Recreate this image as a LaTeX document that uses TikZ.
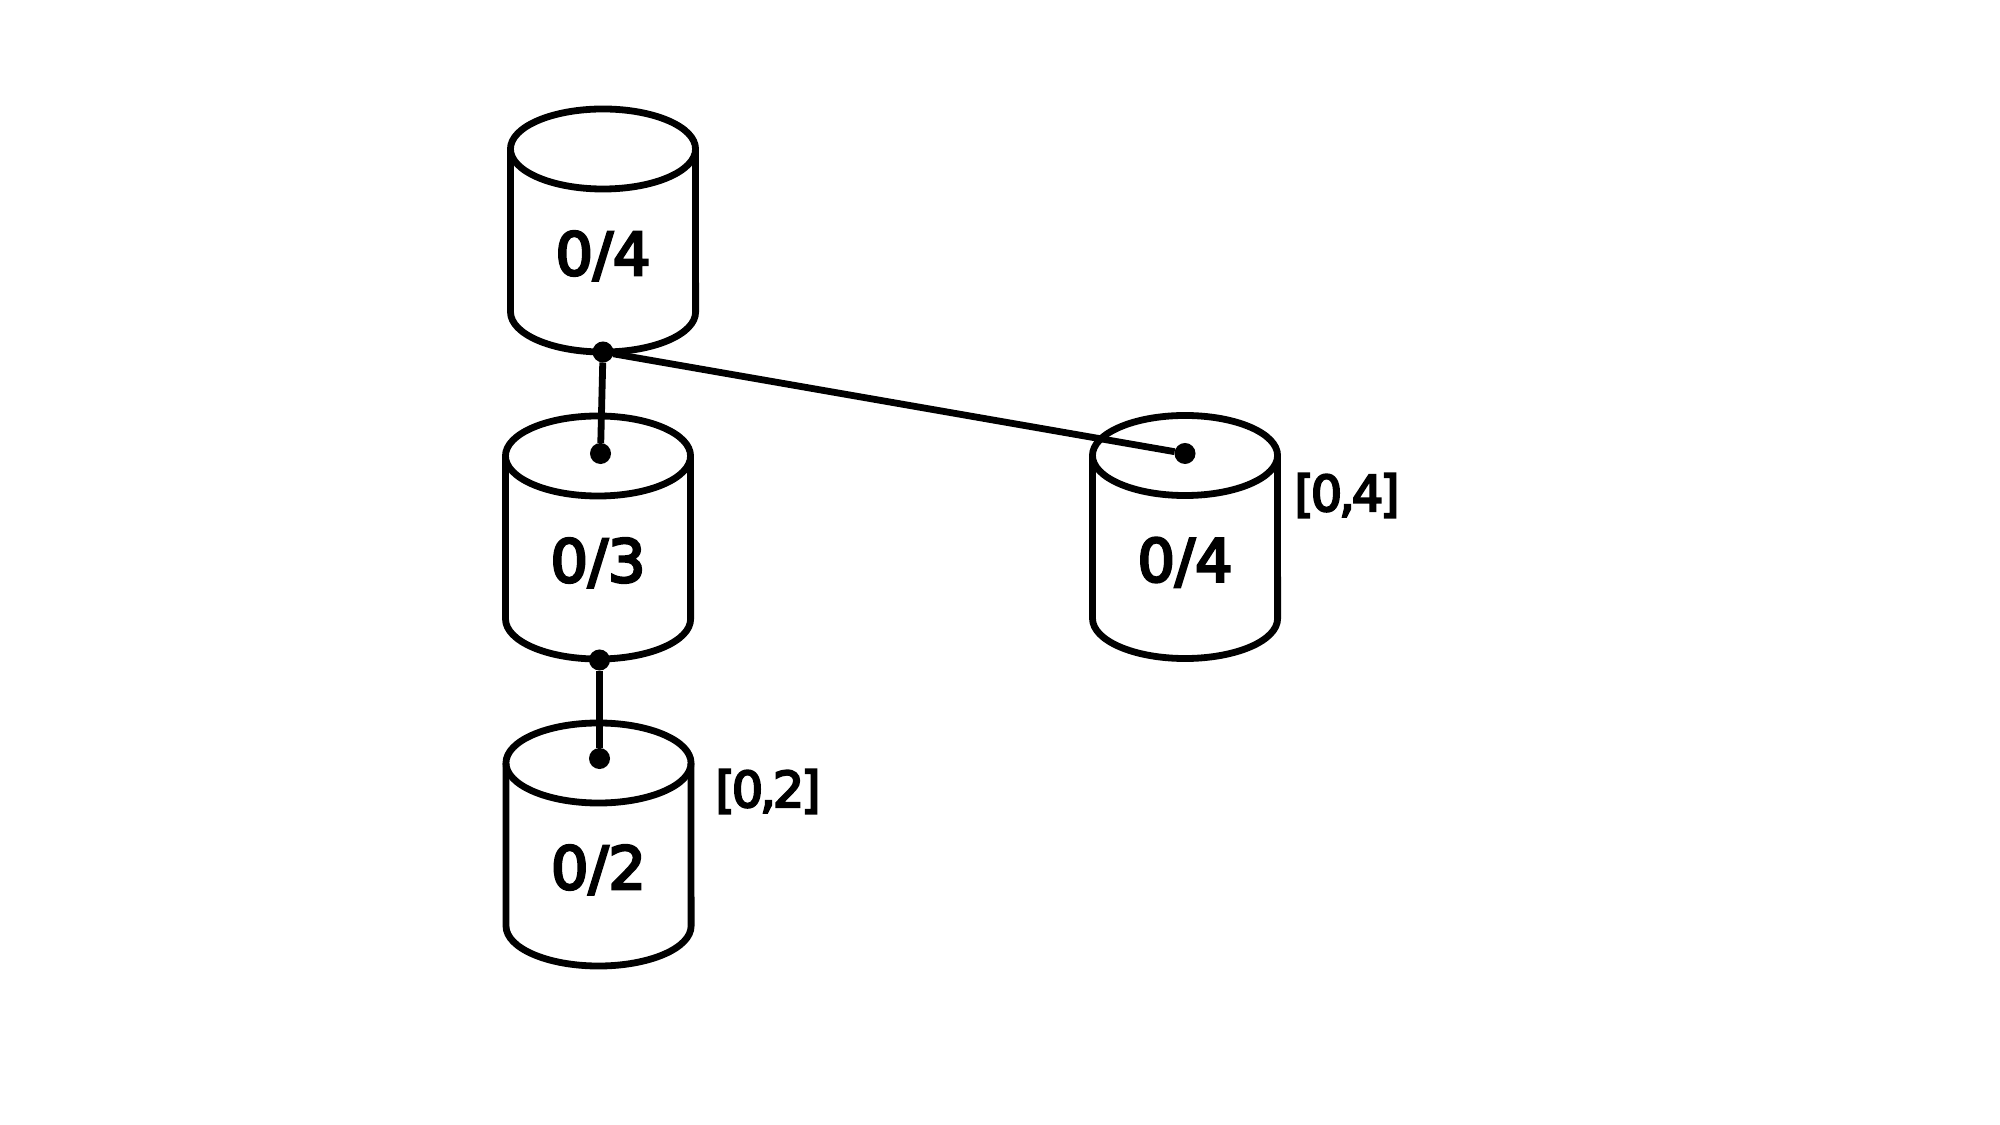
\documentclass[tikz,border=0pt]{standalone}
\usepackage{fontspec}
\setmainfont{DejaVu Sans}
\font\boldlabel="DejaVu Sans:embolden=4.5" at 16.8pt
\font\boldrange="DejaVu Sans:embolden=4.5,letterspace=-6" at 14pt
\usetikzlibrary{calc}

\tikzset{
    cylline/.style={line width=0.068cm, black, line join=round},
    dot/.style={circle, fill=black, inner sep=0pt, outer sep=0pt, minimum size=0.21cm},
    link/.style={line width=0.068cm, black},
    cyltext/.style={anchor=base, inner sep=0pt, font=\boldlabel},
    rangetext/.style={anchor=base, inner sep=0pt, font=\boldrange}
}

%% one cylinder : name, centre of top ellipse, text
\newcommand{\dbcyl}[3]{
    \coordinate (#1) at #2;
    \draw[cylline] (#1) ellipse[x radius=0.925cm, y radius=0.40cm];
    \draw[cylline] ($(#1)+(-92.5,0)$) -- ($(#1)+(-92.5,163)$)
        arc[start angle=180, end angle=360, x radius=0.925cm, y radius=0.40cm]
        -- ($(#1)+(92.5,0)$);
    \node[cyltext] (#1text) at ($(#1)+(0,126)$) {#3};
}

\begin{document}
\begin{tikzpicture}[x=0.01cm, y=-0.01cm]

\useasboundingbox (0,0) rectangle (2000,1125);

%% cylinders
\dbcyl{cylA}{(603,149)}{0/4}
\dbcyl{cylB}{(598,456)}{0/3}
\dbcyl{cylC}{(598.5,763)}{0/2}
\dbcyl{cylD}{(1185,455.5)}{0/4}

%% dots
\node[dot] (dotA) at (603,352) {};
\node[dot] (dotB) at (600.5,453.5) {};
\node[dot] (dotBlow) at (599.5,660) {};
\node[dot] (dotC) at (599.5,758.5) {};
\node[dot] (dotD) at (1185,453.5) {};

%% links
\draw[link] (dotA) -- (dotB);
\draw[link] (dotA) -- (dotD);
\draw[link] (dotBlow) -- (dotC);

%% ranges
\node[rangetext] (rangeD) at (1347,511) {[0,4]};
\node[rangetext] (rangeC) at (768,807) {[0,2]};

\end{tikzpicture}
\end{document}
